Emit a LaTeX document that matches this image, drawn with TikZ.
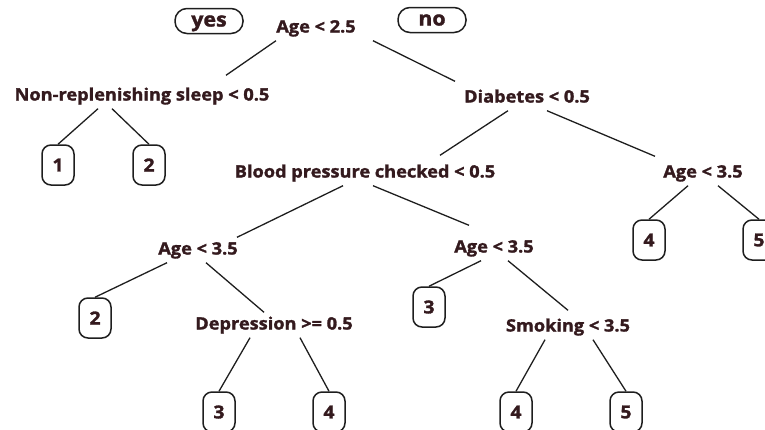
\documentclass[tikz,border=0pt]{standalone}
\usepackage{fontspec}
\setmainfont{Open Sans}[BoldFeatures={FakeBold=1.6,FakeStretch=1.07}]
\definecolor{ink}{RGB}{52,26,30}
\definecolor{edge}{RGB}{30,30,30}
\tikzset{
  split/.style={font=\bfseries\fontsize{17}{20}\selectfont, text=ink,
    inner xsep=0pt, inner ysep=4pt, text height=13pt, text depth=4pt},
  leaf/.style={draw=edge, line width=1.5pt, rounded corners=9pt,
    minimum width=32pt, minimum height=40pt, inner sep=0pt,
    font=\bfseries\fontsize{18}{20}\selectfont, text=ink},
  pill/.style={draw=edge, line width=1.5pt, rounded corners=12pt,
    minimum width=68pt, minimum height=25pt, inner sep=0pt,
    text height=11pt, text depth=0pt,
    font=\bfseries\fontsize{20}{22}\selectfont, text=ink},
  branch/.style={draw=edge, line width=1.3pt}
}
\begin{document}
\begin{tikzpicture}[x=1pt,y=-1pt]
\useasboundingbox (0,0) rectangle (765,429);
% splits
\node[split] (root) at (316,28) {Age < 2.5};
\node[pill] (yes) at (209,21) {yes};
\node[pill] (no) at (432,20) {no};
\node[split] (sleep) at (142,96) {Non-replenishing sleep < 0.5};
\node[split] (diab) at (527,98) {Diabetes < 0.5};
\node[split] (bp) at (365,173) {Blood pressure checked < 0.5};
\node[split] (ageR) at (703,173) {Age < 3.5};
\node[split] (ageL) at (198,250) {Age < 3.5};
\node[split] (ageM) at (494,248) {Age < 3.5};
\node[split] (depr) at (274,325) {Depression >= 0.5};
\node[split] (smok) at (568,327) {Smoking < 3.5};
% leaves
\node[leaf] (l1) at (58,165) {1};
\node[leaf] (l2) at (149,165) {2};
\node[leaf] (l4R) at (649,240) {4};
\node[leaf] (l5R) at (759,240) {5};
\node[leaf] (l2L) at (95,318) {2};
\node[leaf] (l3M) at (429,307) {3};
\node[leaf] (l3D) at (219,412) {3};
\node[leaf] (l4D) at (329,412) {4};
\node[leaf] (l4S) at (516,412) {4};
\node[leaf] (l5S) at (626,412) {5};
% branches
\draw[branch] ([xshift=-40pt]root.south) -- ([xshift=84pt,yshift=8pt]sleep.north);
\draw[branch] ([xshift=57pt]root.south) -- ([xshift=-72pt,yshift=4pt]diab.north);
\draw[branch] ([xshift=-44pt]sleep.south) -- (l1.north);
\draw[branch] ([xshift=-30pt]sleep.south) -- (l2.north);
\draw[branch] ([xshift=-19pt]diab.south) -- ([xshift=75pt,yshift=5pt]bp.north);
\draw[branch] ([xshift=20pt]diab.south) -- ([xshift=-48pt,yshift=4pt]ageR.north);
\draw[branch] ([xshift=-15pt]ageR.south) -- (l4R.north);
\draw[branch] ([xshift=15pt]ageR.south) -- (l5R.north);
\draw[branch] ([xshift=-22pt]bp.south) -- ([xshift=39pt]ageL.north);
\draw[branch] ([xshift=8pt]bp.south) -- ([xshift=-25pt,yshift=10pt]ageM.north);
\draw[branch] ([xshift=-31pt]ageL.south) -- (l2L.north);
\draw[branch] ([xshift=8pt]ageL.south) -- ([xshift=-10pt]depr.north);
\draw[branch] ([xshift=-13pt]ageM.south) -- (l3M.north);
\draw[branch] ([xshift=14pt]ageM.south) -- ([yshift=4pt]smok.north);
\draw[branch] ([xshift=-24pt]depr.south) -- (l3D.north);
\draw[branch] ([xshift=26pt]depr.south) -- (l4D.north);
\draw[branch] ([xshift=-23pt]smok.south) -- (l4S.north);
\draw[branch] ([xshift=25pt]smok.south) -- (l5S.north);
\end{tikzpicture}
\end{document}
